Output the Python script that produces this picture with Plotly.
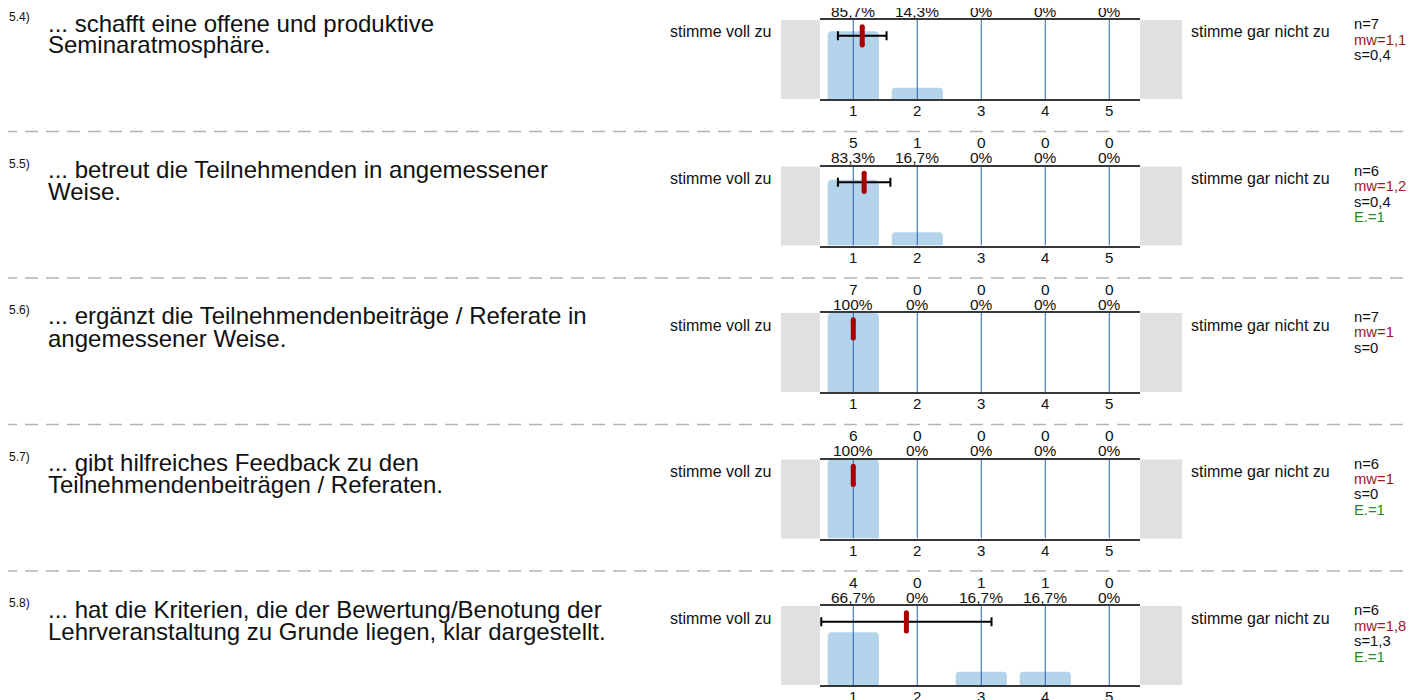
import plotly.graph_objects as go

# ---------------- data ----------------
item_ids = ["5.4)", "5.5)", "5.6)", "5.7)", "5.8)"]
question_line1 = [
    "... schafft eine offene und produktive",
    "... betreut die Teilnehmenden in angemessener",
    "... ergänzt die Teilnehmendenbeiträge / Referate in",
    "... gibt hilfreiches Feedback zu den",
    "... hat die Kriterien, die der Bewertung/Benotung der",
]
question_line2 = [
    "Seminaratmosphäre.",
    "Weise.",
    "angemessener Weise.",
    "Teilnehmendenbeiträgen / Referaten.",
    "Lehrveranstaltung zu Grunde liegen, klar dargestellt.",
]
scale = [1, 2, 3, 4, 5]
counts = [
    [6, 1, 0, 0, 0],
    [5, 1, 0, 0, 0],
    [7, 0, 0, 0, 0],
    [6, 0, 0, 0, 0],
    [4, 0, 1, 1, 0],
]
percents = [
    [85.7, 14.3, 0, 0, 0],
    [83.3, 16.7, 0, 0, 0],
    [100, 0, 0, 0, 0],
    [100, 0, 0, 0, 0],
    [66.7, 0, 16.7, 16.7, 0],
]
n_values = [7, 6, 7, 6, 6]
means = [1.14, 1.17, 1.0, 1.0, 1.83]
sds = [0.38, 0.41, 0.0, 0.0, 1.33]
mw_labels = ["1,1", "1,2", "1", "1", "1,8"]
s_labels = ["0,4", "0,4", "0", "0", "1,3"]
abstentions = [None, 1, None, 1, 1]
left_label = "stimme voll zu"
right_label = "stimme gar nicht zu"

# ---------------- layout constants ----------------
W, H = 1417, 700
OFF = 8  # default body margin of the html page
FONT = "Liberation Sans, Arial, sans-serif"
BAR_COLOR = "#b4d4ec"
GRID_COLOR = "#2a62b0"
AXIS_COLOR = "#383838"
BOX_COLOR = "#e0e0e0"
MEAN_COLOR = "#a80000"
MW_COLOR = "#a01818"
E_COLOR = "#1f8c1f"

T0, STEP, PH = 20, 146.5, 79
X0, X1 = 820, 1140


def fx(p):
    return (p - OFF) / W


def fy(p):
    return 1 - (p - OFF) / H


def fmt_pct(v):
    s = ("%.1f" % v).rstrip("0").rstrip(".")
    return s.replace(".", ",") + "%"


fig = go.Figure()
shapes = []
annotations = []
layout_axes = {}

for i in range(len(item_ids)):
    T = T0 + i * STEP
    B = T + PH
    xn = "x" if i == 0 else f"x{i+1}"
    yn = "y" if i == 0 else f"y{i+1}"
    xkey = "xaxis" if i == 0 else f"xaxis{i+1}"
    ykey = "yaxis" if i == 0 else f"yaxis{i+1}"

    layout_axes[xkey] = dict(
        domain=[fx(X0), fx(X1)], range=[0.48, 5.48], anchor=yn,
        tickvals=scale, ticktext=[str(v) for v in scale],
        tickfont=dict(size=15, color="#111", family=FONT),
        showgrid=False, zeroline=False, ticks="", ticklabelstandoff=-3,
        showline=True, mirror=True, linecolor=AXIS_COLOR, linewidth=2,
        fixedrange=True,
    )
    layout_axes[ykey] = dict(
        domain=[fy(B), fy(T)], range=[0, 100], anchor=xn,
        visible=False, fixedrange=True,
    )

    # bars
    fig.add_trace(go.Bar(
        x=scale, y=percents[i], width=0.8, marker=dict(color=BAR_COLOR, line=dict(width=0)),
        xaxis=xn, yaxis=yn, hoverinfo="skip",
    ))
    # vertical grid lines drawn above the bars
    gx, gy = [], []
    for v in scale:
        gx += [v, v, None]
        gy += [0, 100, None]
    fig.add_trace(go.Scatter(
        x=gx, y=gy, mode="lines", line=dict(color=GRID_COLOR, width=1),
        xaxis=xn, yaxis=yn, hoverinfo="skip",
    ))
    # standard deviation bar
    if sds[i] > 0:
        fig.add_trace(go.Scatter(
            x=[means[i]], y=[80], mode="markers", marker=dict(size=1, opacity=0),
            error_x=dict(type="data", array=[sds[i]], symmetric=True,
                         color="black", thickness=2, width=4.5),
            xaxis=xn, yaxis=yn, hoverinfo="skip", cliponaxis=False,
        ))
    # mean marker
    fig.add_trace(go.Scatter(
        x=[means[i], means[i]], y=[68.5, 91.5], mode="lines+markers",
        line=dict(color=MEAN_COLOR, width=5),
        marker=dict(color=MEAN_COLOR, size=5, line=dict(width=0)),
        xaxis=xn, yaxis=yn, hoverinfo="skip",
    ))

    # grey side boxes
    shapes.append(dict(type="rect", xref="paper", yref="paper",
                       x0=fx(781), x1=fx(X0), y0=fy(B), y1=fy(T),
                       fillcolor=BOX_COLOR, line=dict(width=0), layer="below"))
    shapes.append(dict(type="rect", xref="paper", yref="paper",
                       x0=fx(X1), x1=fx(1182), y0=fy(B), y1=fy(T),
                       fillcolor=BOX_COLOR, line=dict(width=0), layer="below"))
    # dashed separator
    if i > 0:
        shapes.append(dict(type="line", xref="paper", yref="paper",
                           x0=fx(4), x1=fx(1417), y0=fy(T - 35), y1=fy(T - 35),
                           line=dict(color="#b4b4b4", width=1.5, dash="13px,8px")))

    # counts and percentages above the panel
    for v, c, p in zip(scale, counts[i], percents[i]):
        annotations.append(dict(x=v, y=fy(T - 24), xref=xn, yref="paper",
                                text=str(c), showarrow=False, xanchor="center", yanchor="middle",
                                font=dict(size=15.5, color="#111", family=FONT)))
        annotations.append(dict(x=v, y=fy(T - 9), xref=xn, yref="paper",
                                text=fmt_pct(p), showarrow=False, xanchor="center", yanchor="middle",
                                font=dict(size=15.5, color="#111", family=FONT)))

    # item number and question
    annotations.append(dict(x=fx(7), y=fy(T - 3), xref="paper", yref="paper",
                            text=item_ids[i], showarrow=False, xanchor="left", yanchor="middle",
                            font=dict(size=12, color="#111", family=FONT)))
    annotations.append(dict(x=fx(46), y=fy(T + 3), xref="paper", yref="paper",
                            text=question_line1[i], showarrow=False, xanchor="left", yanchor="middle",
                            font=dict(size=24, color="#111", family=FONT)))
    annotations.append(dict(x=fx(46), y=fy(T + 25), xref="paper", yref="paper",
                            text=question_line2[i], showarrow=False, xanchor="left", yanchor="middle",
                            font=dict(size=24, color="#111", family=FONT)))

    # scale end labels
    annotations.append(dict(x=fx(773), y=fy(T + 12), xref="paper", yref="paper",
                            text=left_label, showarrow=False, xanchor="right", yanchor="middle",
                            font=dict(size=16, color="#111", family=FONT)))
    annotations.append(dict(x=fx(1189), y=fy(T + 12), xref="paper", yref="paper",
                            text=right_label, showarrow=False, xanchor="left", yanchor="middle",
                            font=dict(size=16, color="#111", family=FONT)))

    # statistics
    stats = [("n=%d" % n_values[i], "#111"), ("mw=" + mw_labels[i], MW_COLOR),
             ("s=" + s_labels[i], "#111")]
    if abstentions[i] is not None:
        stats.append(("E.=%d" % abstentions[i], E_COLOR))
    for k, (txt, col) in enumerate(stats):
        annotations.append(dict(x=fx(1352), y=fy(T + 4 + 15.5 * k), xref="paper", yref="paper",
                                text=txt, showarrow=False, xanchor="left", yanchor="middle",
                                font=dict(size=14.8, color=col, family=FONT)))

fig.update_layout(
    width=W, height=H,
    margin=dict(l=0, r=0, t=0, b=0),
    paper_bgcolor="white", plot_bgcolor="white",
    showlegend=False, barcornerradius=4,
    font=dict(family=FONT),
    shapes=shapes, annotations=annotations,
    **layout_axes,
)

fig.write_html("out.html", config={"displayModeBar": False})
